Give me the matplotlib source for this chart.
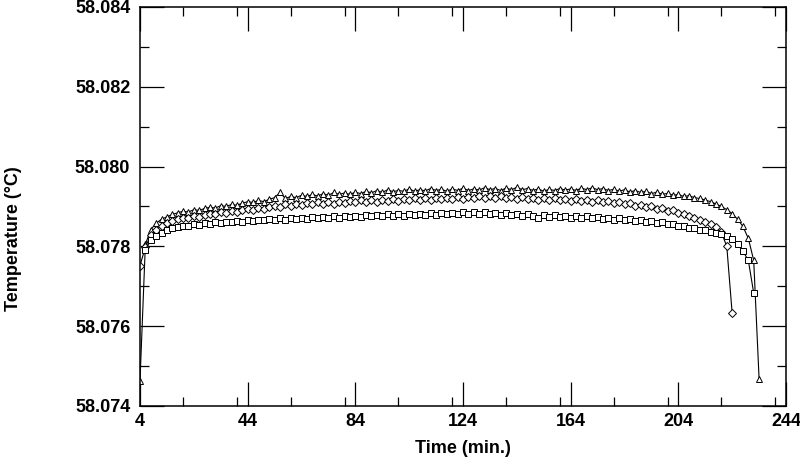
import numpy as np
import matplotlib.pyplot as plt
from matplotlib.ticker import MultipleLocator, FormatStrFormatter

# temperature readings, one every 2 minutes
tri_start = 4
tri_vals = [
    58.07463, 58.07805, 58.07842, 58.07858, 58.07868, 58.07874, 58.07880, 58.07884, 58.07888, 58.07886,
    58.07892, 58.07890, 58.07895, 58.07898, 58.07896, 58.07902, 58.07900, 58.07905, 58.07903, 58.07908,
    58.07912, 58.07910, 58.07915, 58.07912, 58.07918, 58.07922, 58.07935, 58.07920, 58.07925, 58.07922,
    58.07928, 58.07925, 58.07930, 58.07926, 58.07932, 58.07928, 58.07935, 58.07930, 58.07934, 58.07930,
    58.07936, 58.07932, 58.07938, 58.07934, 58.07940, 58.07935, 58.07942, 58.07937, 58.07940, 58.07938,
    58.07944, 58.07938, 58.07942, 58.07939, 58.07945, 58.07940, 58.07943, 58.07938, 58.07944, 58.07940,
    58.07946, 58.07940, 58.07944, 58.07941, 58.07947, 58.07942, 58.07945, 58.07940, 58.07946, 58.07942,
    58.07948, 58.07942, 58.07945, 58.07940, 58.07944, 58.07938, 58.07943, 58.07940, 58.07945, 58.07941,
    58.07944, 58.07940, 58.07946, 58.07942, 58.07947, 58.07942, 58.07945, 58.07940, 58.07943, 58.07938,
    58.07942, 58.07936, 58.07940, 58.07935, 58.07938, 58.07932, 58.07936, 58.07930, 58.07933, 58.07928,
    58.07930, 58.07925, 58.07927, 58.07922, 58.07920, 58.07916, 58.07912, 58.07906, 58.07900, 58.07892,
    58.07882, 58.07868, 58.07850, 58.07820, 58.07765, 58.07468,
]

dia_start = 4
dia_vals = [
    58.07752, 58.07798, 58.07828, 58.07842, 58.07852, 58.07858, 58.07864, 58.07868, 58.07872, 58.07870,
    58.07876, 58.07874, 58.07879, 58.07882, 58.07880, 58.07885, 58.07883, 58.07888, 58.07886, 58.07891,
    58.07894, 58.07891, 58.07896, 58.07893, 58.07898, 58.07902, 58.07898, 58.07905, 58.07902, 58.07907,
    58.07903, 58.07908, 58.07905, 58.07910, 58.07906, 58.07911, 58.07907, 58.07912, 58.07909, 58.07914,
    58.07910, 58.07915, 58.07911, 58.07916, 58.07912, 58.07917, 58.07913, 58.07918, 58.07914, 58.07919,
    58.07915, 58.07920, 58.07916, 58.07921, 58.07917, 58.07922, 58.07918, 58.07922, 58.07918, 58.07923,
    58.07919, 58.07924, 58.07920, 58.07925, 58.07921, 58.07926, 58.07921, 58.07925, 58.07920, 58.07924,
    58.07919, 58.07923, 58.07918, 58.07922, 58.07917, 58.07921, 58.07916, 58.07920, 58.07915, 58.07919,
    58.07914, 58.07918, 58.07913, 58.07917, 58.07912, 58.07915, 58.07910, 58.07913, 58.07908, 58.07911,
    58.07905, 58.07908, 58.07902, 58.07904, 58.07898, 58.07900, 58.07894, 58.07895, 58.07889, 58.07890,
    58.07884, 58.07882, 58.07876, 58.07872, 58.07866, 58.07862, 58.07855, 58.07848, 58.07835, 58.07800,
    58.07632,
]

sq_start = 6
sq_vals = [
    58.07792, 58.07815, 58.07826, 58.07834, 58.07840, 58.07846, 58.07849, 58.07852, 58.07850, 58.07855,
    58.07853, 58.07858, 58.07856, 58.07860, 58.07858, 58.07862, 58.07860, 58.07864, 58.07862, 58.07866,
    58.07863, 58.07867, 58.07865, 58.07869, 58.07866, 58.07870, 58.07867, 58.07871, 58.07868, 58.07872,
    58.07869, 58.07873, 58.07870, 58.07874, 58.07871, 58.07875, 58.07872, 58.07876, 58.07873, 58.07877,
    58.07874, 58.07878, 58.07875, 58.07879, 58.07876, 58.07880, 58.07877, 58.07881, 58.07877, 58.07882,
    58.07878, 58.07882, 58.07878, 58.07883, 58.07879, 58.07883, 58.07880, 58.07884, 58.07880, 58.07885,
    58.07881, 58.07886, 58.07881, 58.07885, 58.07880, 58.07884, 58.07879, 58.07883, 58.07878, 58.07882,
    58.07877, 58.07881, 58.07876, 58.07870, 58.07878, 58.07874, 58.07878, 58.07873, 58.07877, 58.07872,
    58.07876, 58.07871, 58.07875, 58.07870, 58.07874, 58.07869, 58.07872, 58.07867, 58.07870, 58.07865,
    58.07868, 58.07863, 58.07866, 58.07861, 58.07863, 58.07858, 58.07860, 58.07855, 58.07856, 58.07851,
    58.07852, 58.07847, 58.07846, 58.07842, 58.07840, 58.07836, 58.07834, 58.07830, 58.07826, 58.07818,
    58.07805, 58.07788, 58.07765, 58.07683,
]

step = 2
xticks = [4, 44, 84, 124, 164, 204, 244]

plt.rcParams['font.family'] = ['Liberation Sans', 'DejaVu Sans']
plt.rcParams['font.weight'] = 'bold'

fig = plt.figure(figsize=(8, 4.65), dpi=100)
ax = fig.add_axes([0.175, 0.127, 0.8075, 0.858])

series = [(tri_start, tri_vals, '^', 4.6), (dia_start, dia_vals, 'D', 3.8), (sq_start, sq_vals, 's', 4.6)]
for start, vals, mk, ms in series:
    t = start + step * np.arange(len(vals))
    ax.plot(t, vals, color='black', lw=0.8, marker=mk, ms=ms,
            mfc='white', mec='black', mew=0.7)

ax.set_xlim(4, 244)
ax.set_ylim(58.074, 58.084)
ax.set_xticks(xticks)
ax.xaxis.set_minor_locator(MultipleLocator(20))
ax.yaxis.set_major_locator(MultipleLocator(0.002))
ax.yaxis.set_minor_locator(MultipleLocator(0.001))
ax.yaxis.set_major_formatter(FormatStrFormatter('%.3f'))

ax.tick_params(which='both', direction='in', top=True, right=True, width=0.9, labelsize=13)
ax.tick_params(which='major', length=17)
ax.tick_params(which='minor', length=6.5)
ax.tick_params(axis='x', pad=5)
ax.tick_params(axis='y', pad=7)
for sp in ax.spines.values():
    sp.set_linewidth(1.1)

ax.set_xlabel('Time (min.)', fontsize=13, fontweight='bold')
ax.xaxis.set_label_coords(0.5, -0.085)
ax.set_ylabel('Temperature (°C)', fontsize=13, fontweight='bold')
ax.yaxis.set_label_coords(-0.182, 0.42)

fig.savefig('out.png', dpi=100)
